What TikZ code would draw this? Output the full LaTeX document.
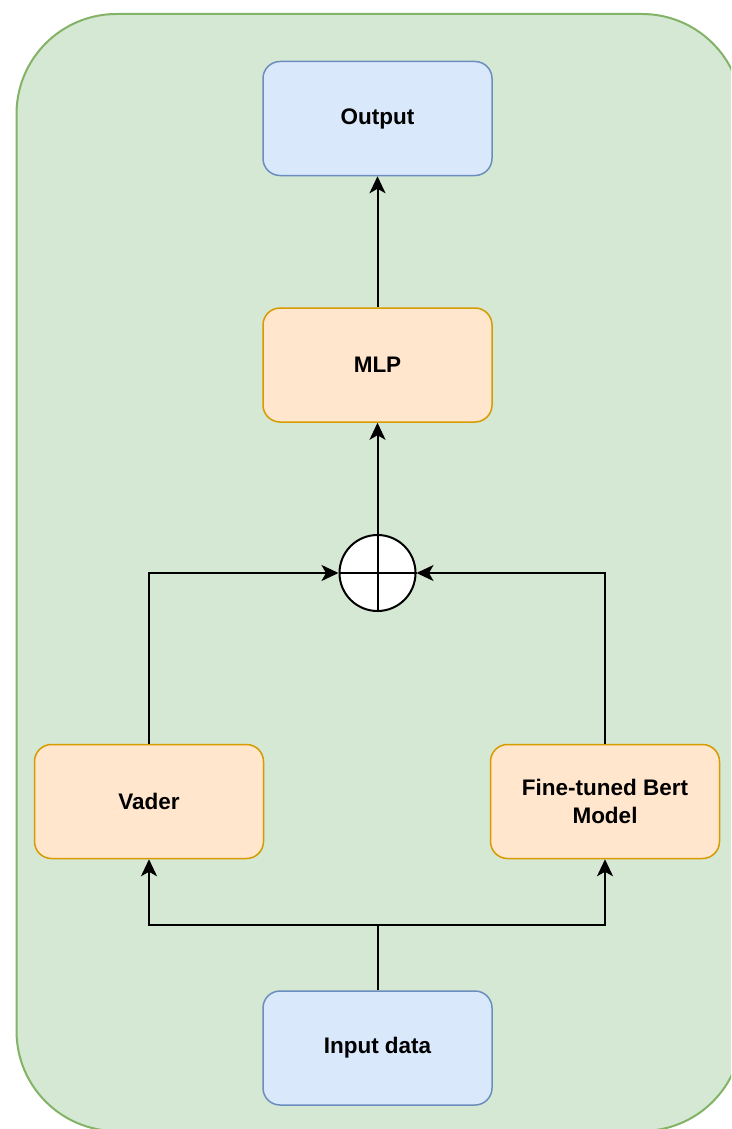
\documentclass[tikz,border=0pt]{standalone}
\usepackage{fontspec}
\setmainfont{Liberation Sans}
\usetikzlibrary{arrows.meta}
\definecolor{bgfill}{HTML}{D5E8D4}
\definecolor{bgdraw}{HTML}{82B366}
\definecolor{bluefill}{HTML}{DAE8FC}
\definecolor{bluedraw}{HTML}{6C8EBF}
\definecolor{orfill}{HTML}{FFE6CC}
\definecolor{ordraw}{HTML}{D79B00}
\tikzset{
  box/.style={rectangle, rounded corners=17pt, minimum width=229pt, minimum height=114pt,
    line width=1.5pt, align=center, inner sep=0pt,
    font=\fontsize{22.5}{27.5}\selectfont\bfseries},
  bluebox/.style={box, fill=bluefill, draw=bluedraw},
  orbox/.style={box, fill=orfill, draw=ordraw},
  conn/.style={line width=2pt, draw=black, -{Stealth[length=17pt, width=16pt, inset=4.5pt]}},
  plain/.style={line width=2pt, draw=black},
}
\begin{document}
\begin{tikzpicture}[x=1pt, y=-1pt]
\useasboundingbox (0,0) rectangle (731,1129);
\clip (0,0) rectangle (731,1129);
\draw[fill=bgfill, draw=bgdraw, line width=2pt, rounded corners=100pt] (16.5,14) rectangle (742,1131);

\node[bluebox] (out) at (377.5,118.5) {Output};
\node[orbox] (mlp) at (377.5,365) {MLP};
\node[circle, draw=black, fill=white, line width=2pt, minimum size=76pt, inner sep=0pt] (sum) at (377.5,573) {};
\node[orbox] (vader) at (149,801.5) {Vader};
\node[orbox] (bert) at (605,801.5) {Fine-tuned Bert\\Model};
\node[bluebox] (inp) at (377.5,1048) {Input data};

\draw[plain] (sum.north) -- (sum.south);
\draw[plain] (sum.west) -- (sum.east);

\coordinate (split) at (377.5,925);
\draw[plain] (inp.north) -- (split);
\draw[conn] (split) -| (vader.south);
\draw[conn] (split) -| (bert.south);
\draw[conn] (vader.north) |- (sum.west);
\draw[conn] (bert.north) |- (sum.east);
\draw[conn] (sum.north) -- (mlp.south);
\draw[conn] (mlp.north) -- (out.south);
\end{tikzpicture}
\end{document}
